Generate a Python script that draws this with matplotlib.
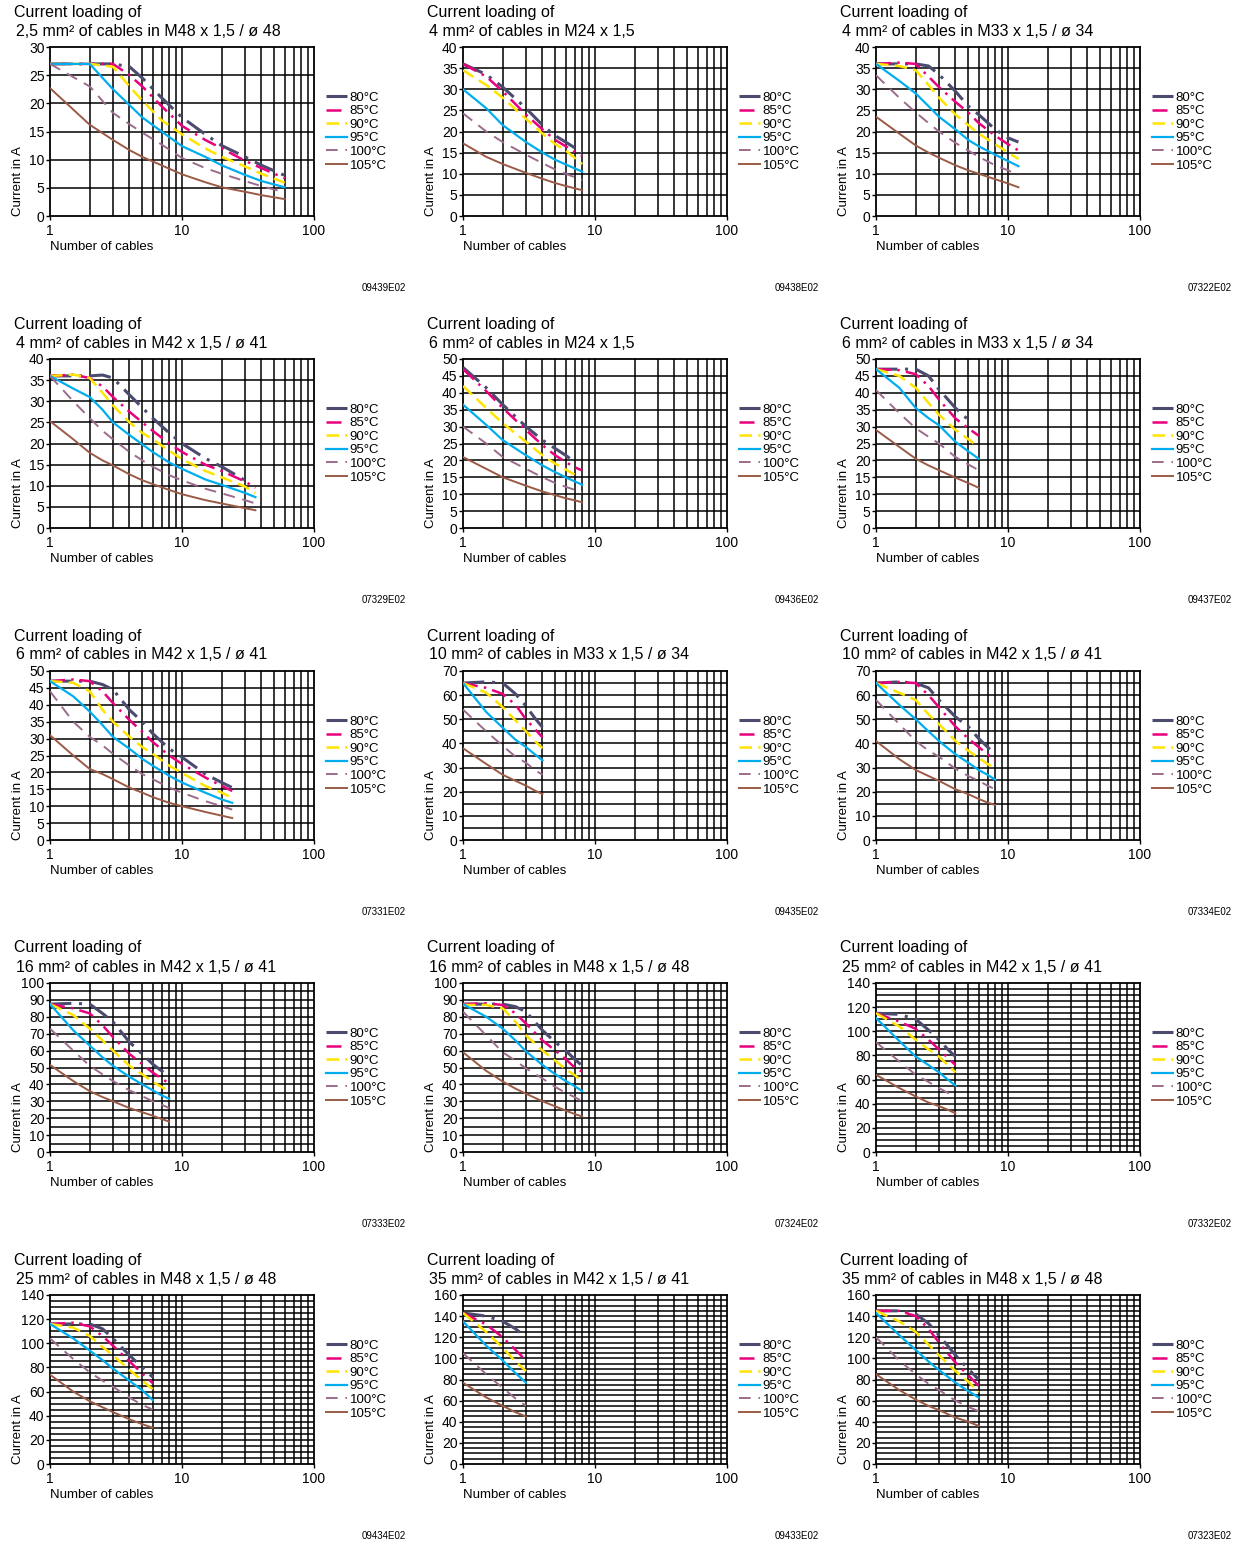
import numpy as np
import matplotlib
matplotlib.use("Agg")
import matplotlib.pyplot as plt
from matplotlib.ticker import FixedLocator, NullFormatter

plt.rcParams['font.family'] = ['Liberation Sans', 'DejaVu Sans']

temps = ['80°C', '85°C', '90°C', '95°C', '100°C', '105°C']
colors = ['#4b4b70', '#e8007d', '#ffe400', '#00aeef', '#9c6b8c', '#9b5a46']
styles = [(0, (7, 2.5, 1, 2.5)), (0, (6, 2.5, 1, 2.5)), (0, (5, 2.5)), '-', (0, (6, 4)), '-']
widths = [2.2, 1.8, 1.8, 1.6, 1.4, 1.4]

nan = np.nan

# ---- panel data: number of cables vs current in A (one row per temperature) ----
x_2p5_m48 = [1, 2, 3, 4, 5, 7, 10, 15, 20, 30, 40, 60]
i_2p5_m48 = [
    [27, 27, 27, 26.5, 24.5, 21, 17.5, 14.5, 12.5, 10.5, 9, 7.2],
    [27, 27, 27, 25, 23, 19.5, 16, 13.5, 12, 9.8, 8.5, 6.7],
    [27, 27, 26.5, 23, 20.5, 17, 14.5, 12, 10.5, 8.8, 7.5, 5.9],
    [27, 27, 22.5, 19.7, 17.5, 15, 12.4, 10.5, 9, 7.3, 6.2, 5.1],
    [27, 23, 18.3, 16.3, 14.8, 12.7, 10.3, 8.5, 7.5, 6.2, 5.3, 4.2],
    [22.7, 16.2, 13.5, 11.7, 10.5, 9, 7.4, 6, 5.1, 4.3, 3.7, 3.0],
]

x_4_m24 = [1, 1.5, 2, 3, 4, 5, 6, 8]
i_4_m24 = [
    [36, 33.5, 30.5, 25.5, 21.5, 19, 17.5, 15],
    [36, 33, 29.5, 24, 20.5, 18, 16.5, 14.2],
    [34.5, 31, 28, 23, 19.5, 17, 15.5, 12.3],
    [30, 25.5, 21.5, 17.5, 15, 13.3, 12.2, 10.5],
    [24.3, 20, 17.5, 14.5, 12.5, 11, 10, 8.5],
    [17.2, 14, 12.3, 10.2, 8.8, 7.8, 7.1, 6.1],
]

x_4_m33 = [1, 1.5, 2, 2.5, 3, 4, 5, 6, 8, 10, 12]
i_4_m33 = [
    [36, 36, 36, 35.5, 33.5, 29.5, 26, 24, 20.5, 18.5, 17.5],
    [36, 36.3, 36, 33, 30.5, 27, 24.5, 22, 19, 17, 15.5],
    [36, 35.5, 34.5, 31, 28, 24, 21.5, 19.5, 17, 15, 13.5],
    [36, 32, 29, 26, 23.5, 20.5, 18, 16.5, 14.5, 13, 11.8],
    [33.3, 28, 24.5, 22, 20, 17.3, 15.5, 14, 12, 10.8, 9.7],
    [23.5, 19.5, 16.7, 15, 13.8, 12, 10.8, 10, 8.7, 7.7, 6.8],
]

x_4_m42 = [1, 1.5, 2, 2.5, 3, 4, 5, 6, 8, 10, 15, 20, 30, 36]
i_4_m42 = [
    [36, 36, 36, 36.2, 35.5, 31.5, 28.5, 26, 22.5, 20, 16.5, 14.5, 11.3, nan],
    [36, 36.3, 35.5, 33.5, 31, 27.5, 25, 23, 20, 18, 15, 13.5, 11, 9.5],
    [36, 36.3, 35.5, 32, 29, 25, 22.5, 21, 18.3, 16.3, 13.5, 12, 9.8, 8.3],
    [36, 33, 31, 28, 25, 22, 19.8, 18, 15.5, 14, 11.5, 10.2, 8.3, 7.3],
    [36, 30, 26, 23, 21, 18, 16, 14.5, 12.5, 11.3, 9.3, 8.2, 6.6, 5.8],
    [25.3, 21, 17.8, 16, 14.8, 12.7, 11.3, 10.4, 9, 8, 6.6, 5.8, 4.7, 4.2],
]

x_6_m24 = [1, 1.5, 2, 3, 4, 5, 6, 7, 8]
i_6_m24 = [
    [47.5, 41.5, 36.5, 30, 26, 23.5, 21.5, 19.5, nan],
    [47, 40.5, 35.5, 29, 24.5, 21.5, 19.5, 18, 17],
    [42, 35.5, 31, 25.5, 21.5, 19, 17.3, 15.8, nan],
    [36.5, 30.5, 26, 21.5, 18.5, 16.5, 15, 13.8, 12.8],
    [30, 25, 21, 17.5, 15, 13.3, 12.2, 11.3, 10.5],
    [21, 17.5, 15, 12.5, 10.8, 9.7, 8.8, 8.2, 7.6],
]

x_6_m33 = [1, 1.5, 2, 2.5, 3, 4, 5, 6]
i_6_m33 = [
    [47, 47, 47, 45, 41, 35.5, 32, nan],
    [47, 46.7, 45.5, 42, 38, 32.4, 29.5, 27.3],
    [47, 45, 41.5, 37, 33.5, 29, 26.3, 24],
    [47, 41.5, 35.5, 32.5, 30.4, 25.5, 22.7, 20.5],
    [40.8, 34, 29.5, 27, 25, 21, 18.8, 17.1],
    [29, 24, 20.5, 18.5, 17.1, 14.9, 13.3, 11.9],
]

x_6_m42 = [1, 1.5, 2, 2.5, 3, 4, 5, 6, 8, 10, 15, 20, 24]
i_6_m42 = [
    [47, 47, 47, 46, 44.5, 38.5, 35, 31.5, 27, 24.5, 19.5, 17, 15.5],
    [47, 47.5, 47, 44, 40.5, 35.5, 32, 29, 25, 22.5, 18.5, 16, 14.5],
    [47, 46.5, 44, 38.5, 35, 30.5, 27.5, 25.5, 22, 19.8, 16, 14, 12.5],
    [47, 42.5, 38, 34, 30.5, 27, 24, 22, 19, 17, 14, 12, 11],
    [44, 35, 30.5, 28, 25.5, 22, 19.5, 18, 15.5, 14, 11.5, 10, 9],
    [31, 25, 21, 19.5, 18, 15.5, 14, 12.7, 11, 10, 8.3, 7.2, 6.5],
]

x_10_m33 = [1, 1.5, 2, 2.5, 3, 3.5, 4]
i_10_m33 = [
    [65, 65.5, 65, 60.5, 55.5, 50.5, 46.7],
    [65, 63, 60.5, 56, 50, 46, 42.5],
    [65, 61, 55, 49.5, 45, 41, 38],
    [65, 53, 46.5, 41.5, 38.5, 35.5, 33],
    [54, 45, 39, 34.5, 32, 29, 27],
    [38, 31.5, 27, 24.5, 22.5, 20.5, 19],
]

x_10_m42 = [1, 1.5, 2, 2.5, 3, 4, 5, 6, 7, 8]
i_10_m42 = [
    [65, 65.5, 65, 63, 58, 51, 47, 42, 38.5, 35.5],
    [65, 65.5, 65, 60, 55, 47, 42, 38.5, 35.5, 33],
    [65, 61, 58, 52, 48, 41, 37, 34, 31.5, 29.5],
    [65, 56, 50, 45, 41, 35.5, 32, 29, 27, 25],
    [58, 48, 41, 37, 34.5, 29.5, 26.5, 24.5, 22.5, 21],
    [41, 33.5, 29, 26.5, 24.5, 21, 19, 17, 15.5, 14.5],
]

x_16_m42 = [1, 1.5, 2, 2.5, 3, 4, 5, 6, 7, 8]
i_16_m42 = [
    [87.5, 88, 87.5, 82, 77, 65, 58, 52, 48, 44.5],
    [87.5, 85, 82, 75, 68, 58, 52, 47, 43.5, 40.5],
    [87.5, 81, 73, 66, 60, 51, 46, 41.5, 38.5, 36],
    [87.5, 72, 63, 56, 51, 44.5, 40, 36.5, 33.5, 31.5],
    [73, 60, 51, 46, 42, 36.5, 33, 30, 28, 26],
    [51.5, 42, 36, 32.5, 30, 26, 23.5, 21.5, 19.5, 18],
]

x_16_m48 = [1, 1.5, 2, 2.5, 3, 4, 5, 6, 7, 8]
i_16_m48 = [
    [87.5, 87.5, 87.5, 86, 83, 72, 65, 60, 55, 51],
    [87.5, 88, 87, 82, 76, 66, 60, 55, 50, 47.5],
    [87, 87, 85, 77, 69, 60, 54, 49, 45.5, 42],
    [87.5, 80, 73, 66, 59.5, 51.5, 46, 42, 39, 36],
    [83, 69, 59, 54, 49.5, 43.5, 38.5, 35, 32.5, 30],
    [59, 48, 41.7, 37.5, 34.5, 30, 27, 24.5, 22.5, 21],
]

x_25_m42 = [1, 1.5, 2, 2.5, 3, 3.5, 4]
i_25_m42 = [
    [115, 114, 110, 101, 93, 85, 79],
    [115, 108, 102, 93, 85, 78, 72],
    [115, 104, 93, 85, 79, 72, 66],
    [111, 92, 79, 72, 66, 60, 55],
    [91, 75, 64, 58, 53, 49, 45],
    [64, 53, 46, 41, 38, 35, 32],
]

x_25_m48 = [1, 1.5, 2, 2.5, 3, 4, 5, 6]
i_25_m48 = [
    [116, 116, 116, 112, 104, 90, 80, 72],
    [116, 117, 114, 106, 98, 85, 75, 67],
    [116, 113, 106, 97, 90, 78, 69, 62],
    [116, 104, 94, 86, 79, 69, 61, 53],
    [104, 87, 76, 69, 64, 55, 49, 45],
    [74, 60, 52, 47, 43, 37, 33, 30],
]

x_35_m42 = [1, 1.5, 2, 2.5, 3]
i_35_m42 = [
    [143, 140, 135, 128, 120],
    [143, 132, 120, 108, 98],
    [143, 125, 110, 97, 88],
    [135, 112, 98, 86, 77],
    [105, 85, 72, 62, 55],
    [77, 63, 55, 49, 45],
]

x_35_m48 = [1, 1.5, 2, 2.5, 3, 4, 5, 6]
i_35_m48 = [
    [145, 145, 142, 133, 122, 103, 90, 80],
    [145, 145, 140, 128, 115, 96, 84, 74],
    [145, 135, 125, 113, 103, 88, 78, 68],
    [143, 122, 108, 97, 89, 77, 69, 63],
    [120, 98, 85, 76, 70, 60, 54, 50],
    [85, 70, 61, 55, 51, 44, 40, 36],
]

titles = [
    '2,5 mm² of cables in M48 x 1,5 / ø 48', '4 mm² of cables in M24 x 1,5', '4 mm² of cables in M33 x 1,5 / ø 34',
    '4 mm² of cables in M42 x 1,5 / ø 41', '6 mm² of cables in M24 x 1,5', '6 mm² of cables in M33 x 1,5 / ø 34',
    '6 mm² of cables in M42 x 1,5 / ø 41', '10 mm² of cables in M33 x 1,5 / ø 34', '10 mm² of cables in M42 x 1,5 / ø 41',
    '16 mm² of cables in M42 x 1,5 / ø 41', '16 mm² of cables in M48 x 1,5 / ø 48', '25 mm² of cables in M42 x 1,5 / ø 41',
    '25 mm² of cables in M48 x 1,5 / ø 48', '35 mm² of cables in M42 x 1,5 / ø 41', '35 mm² of cables in M48 x 1,5 / ø 48',
]
codes = ['09439E02', '09438E02', '07322E02', '07329E02', '09436E02', '09437E02',
         '07331E02', '09435E02', '07334E02', '07333E02', '07324E02', '07332E02',
         '09434E02', '09433E02', '07323E02']
ymax = [30, 40, 40, 40, 50, 50, 50, 70, 70, 100, 100, 140, 140, 160, 160]
ystep = [5, 5, 5, 5, 5, 5, 5, 10, 10, 10, 10, 20, 20, 20, 20]
xs = [x_2p5_m48, x_4_m24, x_4_m33, x_4_m42, x_6_m24, x_6_m33, x_6_m42, x_10_m33,
      x_10_m42, x_16_m42, x_16_m48, x_25_m42, x_25_m48, x_35_m42, x_35_m48]
ys = [i_2p5_m48, i_4_m24, i_4_m33, i_4_m42, i_6_m24, i_6_m33, i_6_m42, i_10_m33,
      i_10_m42, i_16_m42, i_16_m48, i_25_m42, i_25_m48, i_35_m42, i_35_m48]

W, H = 1241, 1544
fig = plt.figure(figsize=(W / 100, H / 100), dpi=100)

col_left = [50, 463, 876]
ax_w, ax_h = 264, 169
row_top = [47, 359, 671, 983, 1295]

grid_x = [v * d for d in (1, 10) for v in range(2, 10)]

for k in range(15):
    r, c = divmod(k, 3)
    left, top = col_left[c], row_top[r]
    ax = fig.add_axes([left / W, 1 - (top + ax_h) / H, ax_w / W, ax_h / H])
    ax.set_xscale('log')
    ax.set_xlim(1, 100)
    ax.set_ylim(0, ymax[k])

    for xv in grid_x:
        ax.axvline(xv, color='black', lw=1.1, zorder=1)
    ax.axvline(10, color='black', lw=1.1, zorder=1)
    for yv in np.arange(5, ymax[k], 5):
        ax.axhline(yv, color='black', lw=1.1, zorder=1)

    for j in range(6):
        ax.plot(xs[k], ys[k][j], color=colors[j], ls=styles[j], lw=widths[j],
                label=temps[j], zorder=3)

    ax.xaxis.set_major_locator(FixedLocator([1, 10, 100]))
    ax.set_xticklabels(['1', '10', '100'])
    ax.xaxis.set_minor_formatter(NullFormatter())
    ax.tick_params(axis='x', which='minor', length=0)
    ax.set_yticks(np.arange(0, ymax[k] + 1, ystep[k]))
    ax.tick_params(labelsize=10, length=3, width=1, pad=1, colors='black')
    ax.tick_params(axis='x', pad=3)
    for s in ax.spines.values():
        s.set_linewidth(1.3)

    ax.text(0.0, -0.15, 'Number of cables', transform=ax.transAxes, fontsize=9.5,
            ha='left', va='top')
    ax.text(-0.12, 0.0, 'Current in A', transform=ax.transAxes, fontsize=9.5,
            rotation=90, ha='center', va='bottom')

    fig.text((left - 36) / W, 1 - (top - 35) / H, 'Current loading of', fontsize=11.5,
             ha='left', va='center')
    fig.text((left - 34) / W, 1 - (top - 16) / H, titles[k], fontsize=11.5,
             ha='left', va='center')
    fig.text((left + 356) / W, 1 - (top + 241) / H, codes[k], fontsize=7,
             ha='right', va='center')

    ax.legend(loc='center left', bbox_to_anchor=(1.015, 0.5), frameon=False,
              fontsize=9.5, handlelength=1.6, handletextpad=0.2,
              labelspacing=0.1, borderaxespad=0.2)

fig.savefig('out.png', dpi=100, facecolor='white')
